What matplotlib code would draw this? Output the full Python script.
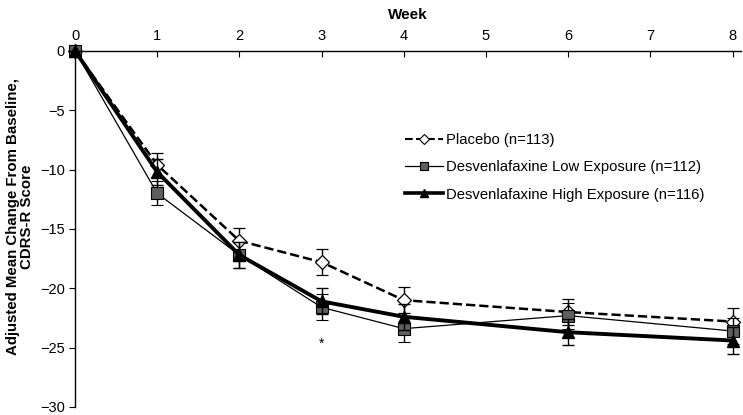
import matplotlib.pyplot as plt
from matplotlib.lines import Line2D

plt.rcParams['font.family'] = ['Liberation Sans', 'DejaVu Sans']

weeks = [0, 1, 2, 3, 4, 6, 8]
placebo = [0, -9.6, -16.0, -17.8, -21.0, -22.0, -22.8]
placebo_se = [0, 1.0, 1.1, 1.1, 1.1, 1.1, 1.1]
low = [0, -12.0, -17.2, -21.6, -23.4, -22.3, -23.6]
low_se = [0, 1.0, 1.1, 1.1, 1.1, 1.1, 1.1]
high = [0, -10.2, -17.2, -21.1, -22.4, -23.7, -24.4]
high_se = [0, 1.1, 1.1, 1.1, 1.1, 1.1, 1.1]
labels = ["Placebo (n=113)", "Desvenlafaxine Low Exposure (n=112)",
          "Desvenlafaxine High Exposure (n=116)"]

fig = plt.figure(figsize=(7.43, 4.15), dpi=100)
ax = fig.add_axes([0.101, 0.0193, 0.896, 0.858])

ax.errorbar(weeks, placebo, yerr=placebo_se, color='black', linestyle='--', linewidth=1.8,
            marker='D', markersize=7, markerfacecolor='white', markeredgecolor='black',
            markeredgewidth=0.9, capsize=4, elinewidth=1, ecolor='black',
            clip_on=False, zorder=3)
ax.errorbar(weeks, low, yerr=low_se, color='black', linestyle='-', linewidth=0.9,
            marker='s', markersize=8, markerfacecolor='#5f5f5f', markeredgecolor='black',
            markeredgewidth=0.8, capsize=4, elinewidth=1, ecolor='black',
            clip_on=False, zorder=4)
ax.errorbar(weeks, high, yerr=high_se, color='black', linestyle='-', linewidth=2.8,
            marker='^', markersize=8, markerfacecolor='black', markeredgecolor='black',
            capsize=4, elinewidth=1, ecolor='black',
            clip_on=False, zorder=5)

ax.text(3, -24.7, '*', ha='center', va='center', fontsize=10)

ax.set_xlim(0, 8.1)
ax.set_ylim(-30, 0)
ax.set_xticks(range(0, 9))
ax.set_yticks(range(-30, 1, 5))
ax.xaxis.tick_top()
ax.xaxis.set_label_position('top')
ax.tick_params(axis='x', direction='in', length=4, labelsize=10.5, pad=6)
ax.tick_params(axis='y', direction='out', length=4, labelsize=10.5)
ax.spines['right'].set_visible(False)
ax.spines['bottom'].set_visible(False)
ax.spines['top'].set_linewidth(1)
ax.spines['left'].set_linewidth(1)
ax.set_xlabel('Week', fontsize=11, fontweight='bold', labelpad=7)
ax.set_ylabel('Adjusted Mean Change From Baseline,\nCDRS-R Score', fontsize=10.8,
              fontweight='bold', linespacing=1.0)
ax.yaxis.set_label_coords(-0.062, 0.535)

handles = [
    Line2D([], [], color='black', linestyle='--', linewidth=1.5, marker='D', markersize=5,
           markerfacecolor='white', markeredgecolor='black', markeredgewidth=0.8),
    Line2D([], [], color='black', linestyle='-', linewidth=0.9, marker='s', markersize=6,
           markerfacecolor='#5f5f5f', markeredgecolor='black', markeredgewidth=0.8),
    Line2D([], [], color='black', linestyle='-', linewidth=2.6, marker='^', markersize=6,
           markerfacecolor='black', markeredgecolor='black'),
]
ax.legend(handles, labels, loc='upper left', bbox_to_anchor=(0.495, 0.77), frameon=False,
          fontsize=10.7, handlelength=2.6, labelspacing=0.9, handletextpad=0.2,
          borderpad=0, borderaxespad=0)

fig.savefig('out.png', dpi=100)
